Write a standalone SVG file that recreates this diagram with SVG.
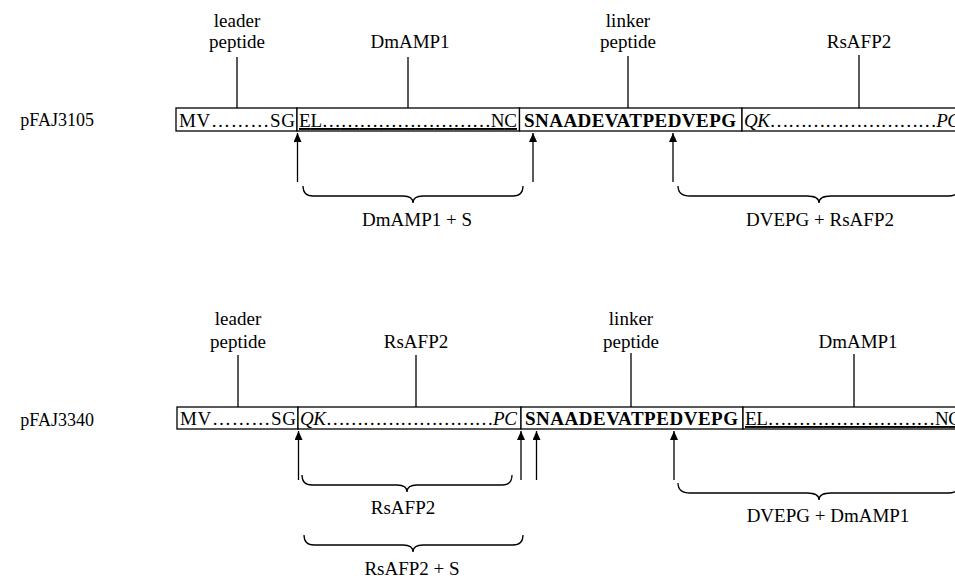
<svg xmlns="http://www.w3.org/2000/svg" width="955" height="578" viewBox="0 0 955 578">
<style>
text{font-family:"Liberation Serif","Times New Roman",serif;font-size:19px;fill:#000}
.lab{text-anchor:middle}
.bx{fill:#fff;stroke:#000;stroke-width:1.3}
.pt{stroke:#000;stroke-width:1.3;fill:none}
.ar{stroke:#000;stroke-width:1.3;fill:none;marker-end:url(#ah)}
.br{stroke:#000;stroke-width:1.3;fill:none}
.b{font-weight:bold}
.i{font-style:italic}
.u{text-decoration:underline}
</style>
<defs>
<marker id="ah" markerUnits="userSpaceOnUse" markerWidth="9" markerHeight="8" refX="9" refY="4" orient="auto" viewBox="0 0 9 8">
<path d="M0,0 L9,4 L0,8 Z" fill="#000"/>
</marker>
</defs>
<rect width="955" height="578" fill="#fff"/>

<g id="row1">
<text x="94" y="126" style="text-anchor:end;font-size:18px">pFAJ3105</text>
<g id="r1-leader">
<rect class="bx" x="176" y="108" width="121" height="23"/>
<text x="179" y="127" textLength="116" lengthAdjust="spacing">MV………SG</text>
<text class="lab" x="237" y="27">leader</text>
<text class="lab" x="237" y="48">peptide</text>
<line class="pt" x1="237" y1="57" x2="237" y2="108"/>
</g>
<g id="r1-dmamp1">
<rect class="bx" x="297" y="108" width="222.5" height="23"/>
<text class="u" x="299" y="127" textLength="218" lengthAdjust="spacing">EL………………………NC</text>
<text class="lab" x="410" y="48">DmAMP1</text>
<line class="pt" x1="408" y1="57" x2="408" y2="108"/>
</g>
<g id="r1-linker">
<rect class="bx" x="519.5" y="108" width="222.5" height="23"/>
<text class="b" x="524" y="127" textLength="212" lengthAdjust="spacing">SNAADEVATPEDVEPG</text>
<text class="lab" x="628" y="27">linker</text>
<text class="lab" x="628" y="48">peptide</text>
<line class="pt" x1="628" y1="56" x2="628" y2="108"/>
</g>
<g id="r1-rsafp2">
<rect class="bx" x="742" y="108" width="230" height="23"/>
<text x="744" y="127" textLength="216" lengthAdjust="spacing"><tspan class="i">QK</tspan>………………………<tspan class="i">PC</tspan></text>
<text class="lab" x="859" y="48">RsAFP2</text>
<line class="pt" x1="859" y1="55" x2="859" y2="108"/>
</g>
</g>

<g id="row2">
<text x="94" y="426" style="text-anchor:end;font-size:18px">pFAJ3340</text>
<g id="r2-leader">
<rect class="bx" x="177" y="407" width="121" height="22"/>
<text x="180" y="425" textLength="116" lengthAdjust="spacing">MV………SG</text>
<text class="lab" x="238" y="325">leader</text>
<text class="lab" x="238" y="348">peptide</text>
<line class="pt" x1="238" y1="355" x2="238" y2="407"/>
</g>
<g id="r2-rsafp2">
<rect class="bx" x="298" y="407" width="223" height="22"/>
<text x="300" y="425" textLength="217" lengthAdjust="spacing"><tspan class="i">QK</tspan>………………………<tspan class="i">PC</tspan></text>
<text class="lab" x="416" y="348">RsAFP2</text>
<line class="pt" x1="416" y1="355" x2="416" y2="407"/>
</g>
<g id="r2-linker">
<rect class="bx" x="521" y="407" width="222" height="22"/>
<text class="b" x="525" y="425" textLength="213" lengthAdjust="spacing">SNAADEVATPEDVEPG</text>
<text class="lab" x="631" y="325">linker</text>
<text class="lab" x="631" y="348">peptide</text>
<line class="pt" x1="631" y1="353" x2="631" y2="407"/>
</g>
<g id="r2-dmamp1">
<rect class="bx" x="743" y="407" width="230" height="22"/>
<text class="u" x="745" y="425" textLength="216" lengthAdjust="spacing">EL………………………NC</text>
<text class="lab" x="858" y="348">DmAMP1</text>
<line class="pt" x1="854" y1="354" x2="854" y2="407"/>
</g>
</g>

<g id="connectors">
<line class="ar" x1="297.5" y1="182" x2="297.5" y2="133"/>
<line class="ar" x1="533" y1="182" x2="533" y2="133"/>
<line class="ar" x1="673" y1="182" x2="673" y2="133"/>
<line class="ar" x1="298.5" y1="480" x2="298.5" y2="431"/>
<line class="ar" x1="521" y1="480" x2="521" y2="431"/>
<line class="ar" x1="536.5" y1="480" x2="536.5" y2="431"/>
<line class="ar" x1="674" y1="480" x2="674" y2="431"/>
</g>

<g id="braces">
<path class="br" d="M303,186 Q303,196 313,196 L403,196 Q413,196 413,203 Q413,196 423,196 L513,196 Q523,196 523,186"/>
<path class="br" d="M678,186 Q678,196 690,196 L807,196 Q819,196 819,203 Q819,196 831,196 L948,196 Q960,196 960,186"/>
<path class="br" d="M302,475 Q302,485 312,485 L397,485 Q407,485 407,492 Q407,485 417,485 L502,485 Q512,485 512,475"/>
<path class="br" d="M304,535 Q304,545 314,545 L403,545 Q413,545 413,552 Q413,545 423,545 L513,545 Q523,545 523,535"/>
<path class="br" d="M678,483 Q678,493 690,493 L807,493 Q819,493 819,500 Q819,493 831,493 L948,493 Q960,493 960,483"/>
</g>

<g id="brace-labels">
<text class="lab" x="417" y="226">DmAMP1 + S</text>
<text class="lab" x="820" y="226">DVEPG + RsAFP2</text>
<text class="lab" x="403" y="514">RsAFP2</text>
<text class="lab" x="412" y="575">RsAFP2 + S</text>
<text class="lab" x="828" y="522">DVEPG + DmAMP1</text>
</g>
</svg>
